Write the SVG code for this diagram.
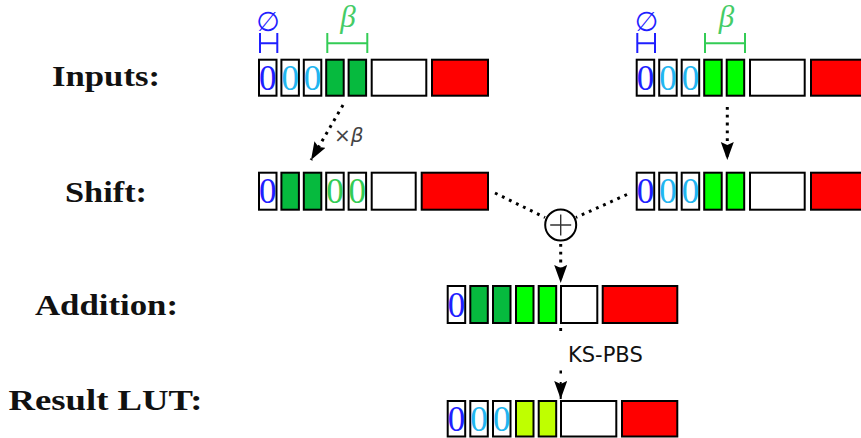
<svg xmlns="http://www.w3.org/2000/svg" width="861" height="438" viewBox="0 0 861 438">
<style>
.c{stroke:#000;stroke-width:2;fill:#fff}
.dg{fill:#06BA3E}
.bg{fill:#00FF00}
.yg{fill:#BFFF00}
.rd{fill:#FF0000}
.z{font-family:"Liberation Serif",serif;font-size:35px;text-anchor:middle}
.zb{fill:#1F1FFF}
.zl{fill:#22B5F0}
.zg{fill:#33CC55}
.lbl{font-family:"Liberation Serif",serif;font-weight:bold;font-size:29px;text-anchor:middle;fill:#111}
.dot{stroke:#000;stroke-width:3;stroke-dasharray:2.8 5;fill:none}
.br{stroke-width:2;fill:none}
.beta{font-family:"Liberation Serif",serif;font-style:italic;font-size:31px;text-anchor:middle;fill:#44CC66}
</style>
<defs>
<marker id="ah" markerUnits="userSpaceOnUse" markerWidth="20" markerHeight="14" refX="18" refY="6.5" orient="auto">
<path d="M0,0 L18,6.5 L0,13 L3,6.5 z" fill="#000"/>
</marker>
</defs>

<g id="labels">
<text class="lbl" x="106" y="85.5" textLength="108" lengthAdjust="spacingAndGlyphs">Inputs:</text>
<text class="lbl" x="106" y="201.7" textLength="82" lengthAdjust="spacingAndGlyphs">Shift:</text>
<text class="lbl" x="106.5" y="315" textLength="143" lengthAdjust="spacingAndGlyphs">Addition:</text>
<text class="lbl" x="105.5" y="410" textLength="194" lengthAdjust="spacingAndGlyphs">Result LUT:</text>
</g>

<g id="input-left">
<text x="268" y="30.5" font-family="DejaVu Sans,sans-serif" font-size="27" text-anchor="middle" fill="#1F1FFF">∅</text>
<path class="br" stroke="#1F1FFF" d="M260,33 V53 M277.3,33 V53 M260,43.3 H277.3"/>
<text class="beta" x="348" y="27">β</text>
<path class="br" stroke="#33CC55" d="M327.3,33 V53 M367.3,33 V53 M327.3,43.3 H367.3"/>
<rect class="c" x="259" y="59.7" width="17.5" height="36"/>
<rect class="c" x="281.4" y="59.7" width="17.5" height="36"/>
<rect class="c" x="303.8" y="59.7" width="17.5" height="36"/>
<rect class="c dg" x="326.2" y="59.7" width="17.5" height="36"/>
<rect class="c dg" x="348.6" y="59.7" width="17.5" height="36"/>
<rect class="c" x="371.7" y="59.7" width="54.6" height="36"/>
<rect class="c rd" x="432" y="59.7" width="56" height="36"/>
<text class="z zb" x="267.75" y="89.5">0</text>
<text class="z zl" x="290.15" y="89.5">0</text>
<text class="z zl" x="312.55" y="89.5">0</text>
</g>

<g id="input-right">
<text x="646.5" y="30.5" font-family="DejaVu Sans,sans-serif" font-size="27" text-anchor="middle" fill="#1F1FFF">∅</text>
<path class="br" stroke="#1F1FFF" d="M637.3,33 V53 M655,33 V53 M637.3,43.3 H655"/>
<text class="beta" x="726.5" y="27">β</text>
<path class="br" stroke="#33CC55" d="M705,33 V53 M745,33 V53 M705,43.3 H745"/>
<rect class="c" x="636.7" y="59.7" width="17.5" height="36"/>
<rect class="c" x="659.2" y="59.7" width="17.5" height="36"/>
<rect class="c" x="681.7" y="59.7" width="17.5" height="36"/>
<rect class="c bg" x="704.2" y="59.7" width="17.5" height="36"/>
<rect class="c bg" x="726.7" y="59.7" width="17.5" height="36"/>
<rect class="c" x="750" y="59.7" width="54.7" height="36"/>
<rect class="c rd" x="811" y="59.7" width="56" height="36"/>
<text class="z zb" x="645.45" y="89.5">0</text>
<text class="z zl" x="667.95" y="89.5">0</text>
<text class="z zl" x="690.45" y="89.5">0</text>
</g>

<g id="shift-left">
<rect class="c" x="259" y="172.7" width="17.5" height="37"/>
<rect class="c dg" x="281.4" y="172.7" width="17.5" height="37"/>
<rect class="c dg" x="303.8" y="172.7" width="17.5" height="37"/>
<rect class="c" x="326.2" y="172.7" width="17.5" height="37"/>
<rect class="c" x="348.6" y="172.7" width="17.5" height="37"/>
<rect class="c" x="371.7" y="172.7" width="44" height="37"/>
<rect class="c rd" x="421.7" y="172.7" width="66.3" height="37"/>
<text class="z zb" x="267.75" y="203">0</text>
<text class="z zg" x="334.95" y="203">0</text>
<text class="z zg" x="357.35" y="203">0</text>
</g>

<g id="shift-right">
<rect class="c" x="636.7" y="172.7" width="17.5" height="37"/>
<rect class="c" x="659.2" y="172.7" width="17.5" height="37"/>
<rect class="c" x="681.7" y="172.7" width="17.5" height="37"/>
<rect class="c bg" x="704.2" y="172.7" width="17.5" height="37"/>
<rect class="c bg" x="726.7" y="172.7" width="17.5" height="37"/>
<rect class="c" x="750" y="172.7" width="54.7" height="37"/>
<rect class="c rd" x="811" y="172.7" width="56" height="37"/>
<text class="z zb" x="645.45" y="203">0</text>
<text class="z zl" x="667.95" y="203">0</text>
<text class="z zl" x="690.45" y="203">0</text>
</g>

<g id="plus">
<circle cx="560.7" cy="225" r="15.5" fill="#fff" stroke="#000" stroke-width="2"/>
<path d="M550.2,225 H571.2 M560.7,214.5 V235.5" stroke="#333" stroke-width="1.4"/>
</g>

<g id="addition">
<rect class="c" x="447.7" y="286" width="17.5" height="37"/>
<rect class="c dg" x="470.3" y="286" width="17.5" height="37"/>
<rect class="c dg" x="493" y="286" width="17.5" height="37"/>
<rect class="c bg" x="516" y="286" width="17.5" height="37"/>
<rect class="c bg" x="538.7" y="286" width="17.5" height="37"/>
<rect class="c" x="561" y="286" width="36.3" height="37"/>
<rect class="c rd" x="602.7" y="286" width="74.6" height="37"/>
<text class="z zb" x="456.45" y="316.5">0</text>
</g>

<g id="result">
<rect class="c" x="447.7" y="401" width="17.5" height="35.5"/>
<rect class="c" x="470.3" y="401" width="17.5" height="35.5"/>
<rect class="c" x="493" y="401" width="17.5" height="35.5"/>
<rect class="c yg" x="516" y="401" width="17.5" height="35.5"/>
<rect class="c yg" x="538.7" y="401" width="17.5" height="35.5"/>
<rect class="c" x="561" y="401" width="55.3" height="35.5"/>
<rect class="c rd" x="622" y="401" width="55.3" height="35.5"/>
<text class="z zb" x="456.45" y="431">0</text>
<text class="z zl" x="479.05" y="431">0</text>
<text class="z zl" x="501.75" y="431">0</text>
</g>

<g id="connectors">
<line class="dot" x1="343" y1="105" x2="311" y2="160" marker-end="url(#ah)"/>
<text x="334" y="142" font-family="DejaVu Sans,sans-serif" font-size="20" fill="#444">×<tspan font-style="italic">β</tspan></text>
<line class="dot" x1="727.3" y1="107" x2="727.3" y2="160" marker-end="url(#ah)"/>
<line class="dot" x1="495" y1="193" x2="545" y2="217.5"/>
<line class="dot" x1="627" y1="194.5" x2="576" y2="217.5"/>
<line class="dot" x1="560.7" y1="244" x2="560.7" y2="283" marker-end="url(#ah)"/>
<path d="M560.7,328 V331 M559.5,372 H562" stroke="#000" stroke-width="2.8"/>
<line x1="560.7" y1="382" x2="560.7" y2="399" stroke="#000" stroke-width="2" marker-end="url(#ah)"/>
<text x="568" y="362" font-family="DejaVu Sans,sans-serif" font-size="21" fill="#111">KS-PBS</text>
</g>
</svg>
